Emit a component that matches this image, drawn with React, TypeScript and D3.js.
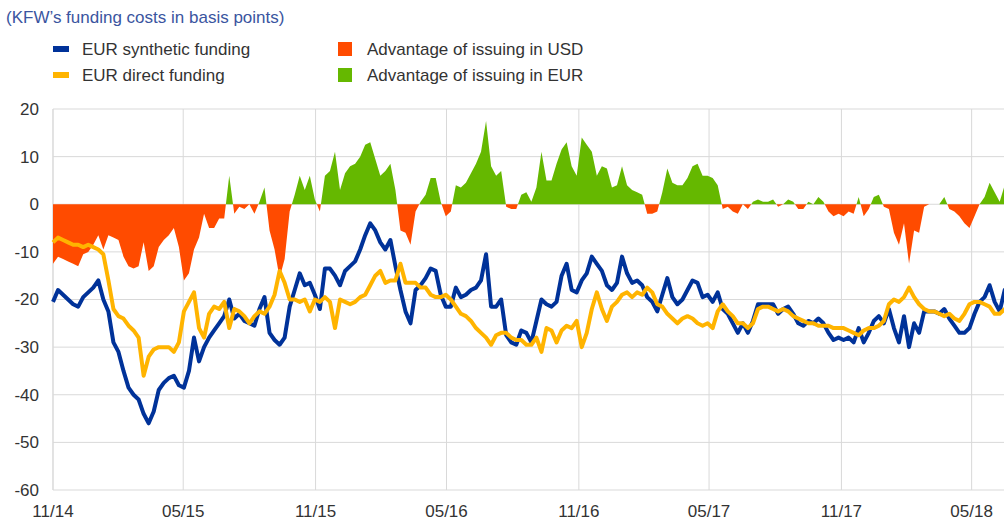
import React, { useEffect, useRef } from 'react';
import * as d3 from 'd3';

const W = 1004;
const H = 521;

// weekly observations starting 1 Nov 2014 (basis points)
const startDate = new Date(2014, 10, 1);
const endDate = new Date(2018, 5, 15);

const eurSynthetic = [
  -20.5, -18, -19, -20, -21, -21.5, -19.5, -18.5, -17.5, -16,
  -20, -22.5, -29, -31, -35, -38.5, -40, -41, -44, -46,
  -43.5, -39, -37.5, -36.5, -36, -38, -38.5, -35, -28, -33,
  -30, -28, -26.5, -25, -23.5, -20, -24, -23, -24.5, -25,
  -25.5, -22, -19.5, -27, -28.5, -29.5, -28, -21.5, -18, -14.5,
  -17, -16.5, -19, -22, -13.5, -13.5, -15, -17, -14, -13,
  -12, -9.5, -6.5, -4, -5.5, -8, -9.5, -7.5, -13, -18,
  -22.5, -25, -18, -17, -15.5, -13.5, -14, -19, -21.5, -21.5,
  -17.5, -19.5, -19, -18, -17.5, -16, -10.5, -21.5, -21.5, -20,
  -27.5, -29, -29.5, -26.5, -27, -29, -24.5, -20, -21, -21.5,
  -20.5, -15, -12.5, -18, -18.5, -16, -14.5, -11, -12.5, -14,
  -17, -18, -16.5, -11, -14.5, -16.5, -16, -17, -19.5, -20.5,
  -22.5, -19, -15.5, -19.5, -21, -20, -18, -16, -16.5, -19.5,
  -19, -20.5, -18.5, -22, -23, -25, -27, -25, -27, -24.5,
  -21, -21, -21, -21, -23, -22, -21.5, -23, -25, -25.5,
  -24.5, -25, -24, -25, -27, -28.5, -28, -28.5, -28, -29,
  -26, -29, -27, -24.5, -23.5, -25, -22, -26, -29, -23.5,
  -30, -25, -27, -22.5, -22.5, -22.5, -23, -22, -24, -25.5,
  -27, -27, -26, -23, -20.5, -19.5, -17, -20.5, -22.5, -18,
  -18,
];

const eurDirect = [
  -8, -7, -7.5, -8, -8.5, -8.5, -9, -8.5, -9, -9.5,
  -10.5, -16, -22, -23.5, -24, -25.5, -26.5, -28, -36, -32,
  -30.5, -30, -30, -30, -31, -29, -22.5, -20.5, -18.5, -26,
  -28, -23, -21.5, -22, -20.5, -26, -22, -22.5, -23.5, -25,
  -23.5, -22.5, -23, -21.5, -19, -14, -16.5, -20, -20, -20.5,
  -20, -22.5, -20, -20.5, -19.5, -20.5, -26, -20, -20.5, -21,
  -20.5, -19.5, -19, -17, -15, -14, -16.5, -16, -16, -12.5,
  -16.5, -16.5, -16.5, -17.5, -17.5, -19, -19.5, -19.5, -19, -20,
  -21.5, -23, -23.5, -24.5, -26, -27, -28, -29.5, -27.5, -27,
  -27, -28, -28.5, -28.5, -29.5, -29.5, -28, -31, -26, -26.5,
  -29, -26.5, -25.5, -26, -24.5, -30, -27, -22, -18.5, -22,
  -24.5, -21.5, -20.5, -19, -18.5, -19.5, -18.5, -19, -17.5, -18.5,
  -21, -21.5, -23, -24, -25, -24, -23.5, -24, -25, -25.5,
  -25, -26, -22.5, -21, -22.5, -23.5, -25, -25, -26, -25,
  -22, -21.5, -21.5, -22, -22.5, -22, -22.5, -23.5, -24, -24.5,
  -25, -25, -25.5, -25.5, -25.5, -26, -26, -26, -26.5, -27,
  -27.5, -26.5, -26, -26, -25.5, -24.5, -21, -20, -20.5, -19.5,
  -17.5, -19.5, -21, -22, -22.5, -22.5, -23, -23.5, -23, -24,
  -24.5, -23, -21, -20.5, -20.5, -21, -21.5, -23, -23, -22,
  -22.5,
];

const xTickLabels = ['11/14', '05/15', '11/15', '05/16', '11/16', '05/17', '11/17', '05/18'];
const yTicks = [20, 10, 0, -10, -20, -30, -40, -50, -60];

const legendLines = ['EUR synthetic funding', 'EUR direct funding'];
const legendAreas = ['Advantage of issuing in USD', 'Advantage of issuing in EUR'];

const BLUE = '#003299';
const YELLOW = '#ffb400';
const ORANGE = '#ff4b00';
const GREEN = '#65b800';
const FONT = '"Liberation Sans", Arial, sans-serif';

function App() {
  const svgRef = useRef(null);

  useEffect(() => {
    const svg = d3.select(svgRef.current);
    svg.selectAll('*').remove();

    const x = d3.scaleTime().domain([startDate, endDate]).range([53, 1004]);
    const y = d3.scaleLinear().domain([-60, 20]).range([490, 109]);
    const dates = eurSynthetic.map((_, i) => d3.timeDay.offset(startDate, i * 7));
    const parseTick = d3.timeParse('%m/%y');

    // title
    svg.append('text')
      .attr('x', 6).attr('y', 23)
      .attr('fill', '#3a55a0')
      .style('font', `17px ${FONT}`)
      .text("(KFW\u2019s funding costs in basis points)");

    // legend
    const lg = svg.append('g').style('font', `17px ${FONT}`).attr('fill', '#333');
    legendLines.forEach((t, i) => {
      lg.append('rect').attr('x', 53).attr('y', 46 + i * 26).attr('width', 16).attr('height', 6)
        .attr('fill', i === 0 ? BLUE : YELLOW);
      lg.append('text').attr('x', 82).attr('y', 55 + i * 26).text(t);
    });
    legendAreas.forEach((t, i) => {
      lg.append('rect').attr('x', 338).attr('y', 42 + i * 26).attr('width', 14).attr('height', 14)
        .attr('fill', i === 0 ? ORANGE : GREEN);
      lg.append('text').attr('x', 367).attr('y', 55 + i * 26).text(t);
    });

    // grid
    const grid = svg.append('g').attr('stroke', '#d9d9d9').attr('stroke-width', 1);
    yTicks.forEach(v => {
      grid.append('line').attr('x1', 53).attr('x2', W).attr('y1', y(v)).attr('y2', y(v));
    });
    grid.append('line').attr('x1', 53).attr('x2', 53).attr('y1', y(20)).attr('y2', y(-60));
    xTickLabels.forEach(l => {
      const d = parseTick(l);
      grid.append('line').attr('x1', x(d)).attr('x2', x(d)).attr('y1', y(20)).attr('y2', y(-60));
    });

    // tick labels
    const tl = svg.append('g').style('font', `17px ${FONT}`).attr('fill', '#333');
    yTicks.forEach(v => {
      tl.append('text').attr('x', 39).attr('y', y(v)).attr('dy', '0.35em')
        .attr('text-anchor', 'end').text(v);
    });
    xTickLabels.forEach(l => {
      tl.append('text').attr('x', x(parseTick(l))).attr('y', 517)
        .attr('text-anchor', 'middle').text(l);
    });

    // spread between the two funding costs, split at zero
    const pts = [];
    eurSynthetic.forEach((v, i) => {
      const s = v - eurDirect[i];
      if (i > 0) {
        const p = pts[pts.length - 1];
        if ((p.v > 0 && s < 0) || (p.v < 0 && s > 0)) {
          const f = p.v / (p.v - s);
          pts.push({ t: +p.t + f * (+dates[i] - +p.t), v: 0 });
        }
      }
      pts.push({ t: +dates[i], v: s });
    });

    const area = d3.area()
      .x(d => x(d.t))
      .y0(y(0));

    svg.append('path').datum(pts)
      .attr('fill', ORANGE)
      .attr('d', area.y1(d => y(Math.min(0, d.v))));
    svg.append('path').datum(pts)
      .attr('fill', GREEN)
      .attr('d', area.y1(d => y(Math.max(0, d.v))));

    const line = d3.line()
      .x((_, i) => x(dates[i]))
      .y(d => y(d));

    svg.append('path').datum(eurSynthetic)
      .attr('fill', 'none').attr('stroke', BLUE).attr('stroke-width', 4)
      .attr('stroke-linejoin', 'round')
      .attr('d', line);
    svg.append('path').datum(eurDirect)
      .attr('fill', 'none').attr('stroke', YELLOW).attr('stroke-width', 4)
      .attr('stroke-linejoin', 'round')
      .attr('d', line);

    return () => { svg.selectAll('*').remove(); };
  }, []);

  return (
    <svg ref={svgRef} width={W} height={H}
      style={{ position: 'absolute', left: 0, top: 0, background: '#fff' }} />
  );
}

export default App;
